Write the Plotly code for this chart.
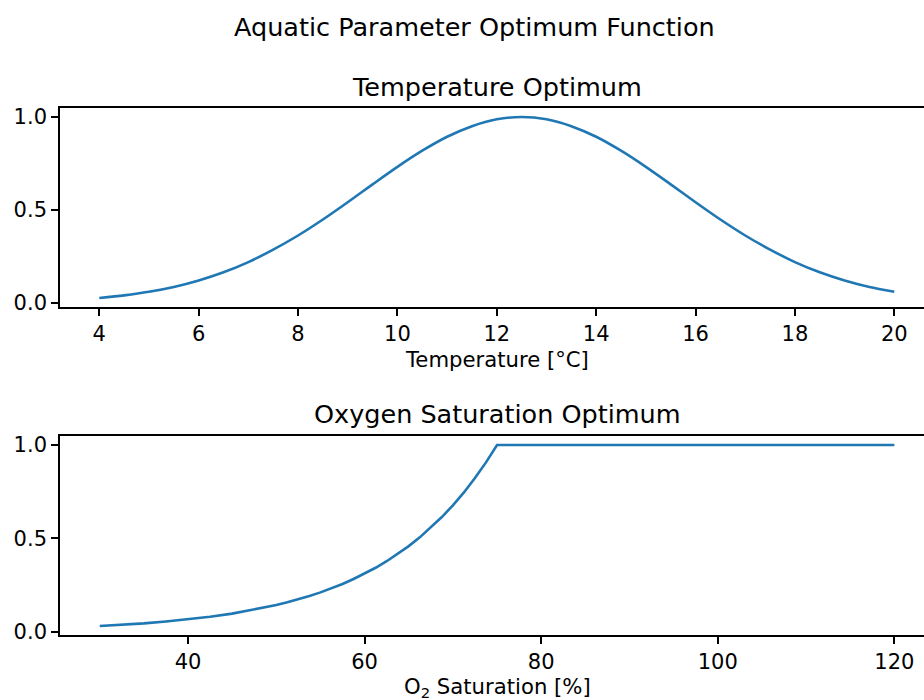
import plotly.graph_objects as go

# ---- data ----
temp_c = [4, 4.5, 5, 5.5, 6, 6.5, 7, 7.5, 8, 8.5, 9, 9.5, 10, 10.5, 11, 11.5, 12,
          12.5, 13, 13.5, 14, 14.5, 15, 15.5, 16, 16.5, 17, 17.5, 18, 18.5, 19, 19.5, 20]
temp_opt = [0.027, 0.041, 0.060, 0.086, 0.121, 0.165, 0.220, 0.287, 0.363, 0.449, 0.542,
            0.638, 0.732, 0.819, 0.894, 0.951, 0.988, 1.0, 0.988, 0.951, 0.894, 0.819,
            0.732, 0.638, 0.542, 0.449, 0.363, 0.287, 0.220, 0.165, 0.121, 0.086, 0.060]

o2_sat = [30, 32.5, 35, 37.5, 40, 42.5, 45, 47.5, 50, 51.25, 52.5, 53.75, 55, 56.25,
          57.5, 58.75, 60, 61.25, 62.5, 63.75, 65, 66.25, 67.5, 68.75, 70, 71.25,
          72.5, 73.75, 75, 80, 90, 100, 110, 120]
o2_opt = [0.030, 0.036, 0.044, 0.054, 0.065, 0.079, 0.096, 0.117, 0.142, 0.157, 0.173,
          0.191, 0.210, 0.232, 0.255, 0.282, 0.310, 0.342, 0.377, 0.416, 0.458, 0.505,
          0.557, 0.614, 0.677, 0.746, 0.823, 0.907, 1.0, 1.0, 1.0, 1.0, 1.0, 1.0]

temp_ticks = [4, 6, 8, 10, 12, 14, 16, 18, 20]
o2_ticks = [40, 60, 80, 100, 120]
y_ticks = [0.0, 0.5, 1.0]

suptitle = "Aquatic Parameter Optimum Function"
titles = ["Temperature Optimum", "Oxygen Saturation Optimum"]
xlabels = ["Temperature [°C]", "O<sub>2</sub> Saturation [%]"]

# ---- layout constants ----
W, H = 924, 700
FONT = "DejaVu Sans"
LINE = "#1f77b4"
TITLE_SIZE = 25.5
LABEL_SIZE = 21.2
TICK_SIZE = 21

def py(p):
    return 1 - p / H

fig = go.Figure()
fig.add_trace(go.Scatter(x=temp_c, y=temp_opt, mode="lines", xaxis="x", yaxis="y",
                         line=dict(color=LINE, width=2.6, shape="spline", smoothing=0.8),
                         showlegend=False, hoverinfo="skip"))
fig.add_trace(go.Scatter(x=o2_sat, y=o2_opt, mode="lines", xaxis="x2", yaxis="y2",
                         line=dict(color=LINE, width=2.6), showlegend=False, hoverinfo="skip"))

axis_common = dict(showgrid=False, zeroline=False, showline=True, linecolor="black",
                   linewidth=1.6, ticks="outside", ticklen=7, tickwidth=1.6,
                   tickcolor="black", automargin=False,
                   tickfont=dict(family=FONT, size=TICK_SIZE, color="black"))

fig.update_layout(
    width=W, height=H,
    margin=dict(l=60, r=0, t=0, b=0),
    paper_bgcolor="white", plot_bgcolor="white",
    xaxis=dict(domain=[0, 1], anchor="y", range=[3.209, 20.598], tickvals=temp_ticks,
               mirror=True, **axis_common),
    yaxis=dict(domain=[py(307), py(108)], anchor="x", range=[-0.0216, 1.0487],
               tickvals=y_ticks, tickformat=".1f", **axis_common),
    xaxis2=dict(domain=[0, 1], anchor="y2", range=[25.5, 123.36], tickvals=o2_ticks,
                mirror=True, **axis_common),
    yaxis2=dict(domain=[py(635), py(436)], anchor="x2", range=[-0.0185, 1.0485],
                tickvals=y_ticks, tickformat=".1f", **axis_common),
)

ann = []
ann.append(dict(text=suptitle, xref="paper", yref="paper", x=(474 - 60) / 864, y=py(27),
                xanchor="center", yanchor="middle", showarrow=False,
                font=dict(family=FONT, size=TITLE_SIZE, color="black")))
ann.append(dict(text=titles[0], xref="x", yref="paper", x=12, y=py(87),
                xanchor="center", yanchor="middle", showarrow=False,
                font=dict(family=FONT, size=TITLE_SIZE, color="black")))
ann.append(dict(text=titles[1], xref="x2", yref="paper", x=75, y=py(414),
                xanchor="center", yanchor="middle", showarrow=False,
                font=dict(family=FONT, size=TITLE_SIZE, color="black")))
ann.append(dict(text=xlabels[0], xref="x", yref="paper", x=12, y=py(359),
                xanchor="center", yanchor="middle", showarrow=False,
                font=dict(family=FONT, size=LABEL_SIZE, color="black")))
ann.append(dict(text=xlabels[1], xref="x2", yref="paper", x=75, y=py(687),
                xanchor="center", yanchor="middle", showarrow=False,
                font=dict(family=FONT, size=LABEL_SIZE, color="black")))
fig.update_layout(annotations=ann)

fig.write_html("out.html")
